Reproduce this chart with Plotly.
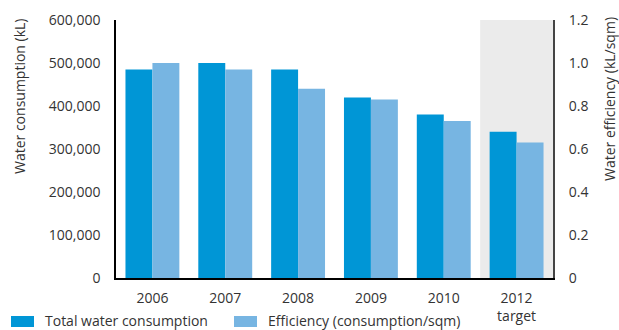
import plotly.graph_objects as go

categories = ["2006", "2007", "2008", "2009", "2010", "2012"]
tick_labels = ["2006", "2007", "2008", "2009", "2010", "2012<br>target"]
consumption = [485000, 500000, 485000, 420000, 380000, 340000]
efficiency = [1.00, 0.97, 0.88, 0.83, 0.73, 0.63]

W, H = 619, 330
ML, MR, MT, MB = 116, 66, 20, 52
PW, PH = W - ML - MR, H - MT - MB

def px_x(x):
    return (x - ML) / PW

def px_y(y):
    return (H - MB - y) / PH

DARK = "#0096d6"
LIGHT = "#77b5e2"
FONT = "Open Sans"
FS = 14
TXT = "#333333"

fig = go.Figure()
fig.add_trace(go.Bar(x=categories, y=consumption, name="Total water consumption",
                     marker=dict(color=DARK, line=dict(width=0)), width=0.37, offset=-0.37,
                     yaxis="y", showlegend=False))
fig.add_trace(go.Bar(x=categories, y=efficiency, name="Efficiency (consumption/sqm)",
                     marker=dict(color=LIGHT, line=dict(width=0)), width=0.37, offset=0.0,
                     yaxis="y2", showlegend=False))

shapes = [
    dict(type="rect", xref="x", yref="paper", x0=4.5, x1=5.5, y0=0, y1=1,
         fillcolor="#ebebeb", line=dict(width=0), layer="below"),
    dict(type="rect", xref="paper", yref="paper", x0=px_x(11), x1=px_x(34), y0=px_y(327), y1=px_y(316),
         fillcolor=DARK, line=dict(width=0)),
    dict(type="rect", xref="paper", yref="paper", x0=px_x(234), x1=px_x(257), y0=px_y(327), y1=px_y(316),
         fillcolor=LIGHT, line=dict(width=0)),
]

annotations = [
    dict(text="Water consumption (kL)", xref="paper", yref="paper", x=px_x(19), y=px_y(16),
         xanchor="center", yanchor="top", textangle=-90, showarrow=False,
         font=dict(family=FONT, size=FS, color=TXT)),
    dict(text="Water efficiency (kL/sqm)", xref="paper", yref="paper", x=px_x(610), y=px_y(15),
         xanchor="center", yanchor="top", textangle=-90, showarrow=False,
         font=dict(family=FONT, size=FS, color=TXT)),
    dict(text="Total water consumption", xref="paper", yref="paper", x=px_x(43), y=px_y(320),
         xanchor="left", yanchor="middle", showarrow=False,
         font=dict(family=FONT, size=FS, color=TXT)),
    dict(text="Efficiency (consumption/sqm)", xref="paper", yref="paper", x=px_x(266), y=px_y(320),
         xanchor="left", yanchor="middle", showarrow=False,
         font=dict(family=FONT, size=FS, color=TXT)),
]

fig.update_layout(
    width=W, height=H,
    margin=dict(l=ML, r=MR, t=MT, b=MB, pad=0, autoexpand=False),
    paper_bgcolor="white", plot_bgcolor="white",
    font=dict(family=FONT, size=FS, color=TXT),
    barmode="overlay",
    shapes=shapes, annotations=annotations,
    xaxis=dict(type="category", range=[-0.5, 5.5], tickvals=categories, ticktext=tick_labels,
               showline=True, linecolor="black", linewidth=1.5, ticks="", showgrid=False,
               ticklabelstandoff=6, automargin=False, fixedrange=True),
    yaxis=dict(range=[0, 600000], tickvals=[0, 100000, 200000, 300000, 400000, 500000, 600000],
               tickformat=",", showline=True, linecolor="black", linewidth=1.5, ticks="",
               showgrid=False, zeroline=False, ticklabelstandoff=11, automargin=False),
    yaxis2=dict(range=[0, 1.2], overlaying="y", side="right",
                tickvals=[0, 0.2, 0.4, 0.6, 0.8, 1.0, 1.2],
                ticktext=["0", "0.2", "0.4", "0.6", "0.8", "1.0", "1.2"],
                showline=True, linecolor="#444444", linewidth=2, ticks="",
                showgrid=False, zeroline=False, ticklabelstandoff=11, automargin=False),
)

fig.write_html("out.html")
